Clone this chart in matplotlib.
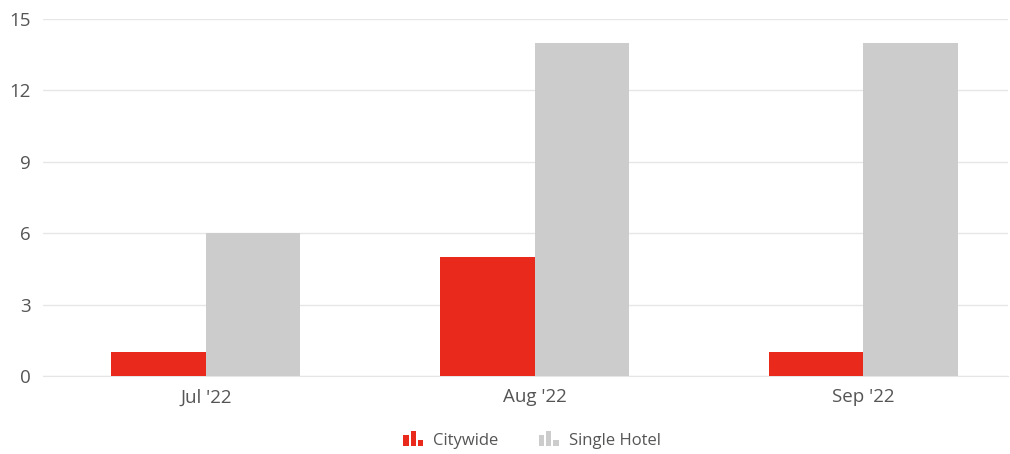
import matplotlib.pyplot as plt
import numpy as np
from matplotlib.patches import Rectangle, Patch
from matplotlib.legend_handler import HandlerBase

months = ["Jul '22", "Aug '22", "Sep '22"]
citywide = [1, 5, 1]
single_hotel = [6, 14, 14]
yticks = [0, 3, 6, 9, 12, 15]

red = '#E8291C'
gray = '#CCCCCC'
text_color = '#555555'

plt.rcParams['font.family'] = ['Open Sans', 'DejaVu Sans']


class BarIconHandler(HandlerBase):
    # small three-bar icon like the web chart legend
    def create_artists(self, legend, orig_handle, xdescent, ydescent,
                       width, height, fontsize, trans):
        color = orig_handle.get_facecolor()
        heights = [0.8, 1.15, 0.45]
        bw = width / 3.6
        gap = (width - 3 * bw) / 2
        arts = []
        for i, h in enumerate(heights):
            r = Rectangle((-xdescent + i * (bw + gap), -ydescent), bw, height * h,
                          facecolor=color, edgecolor='none', transform=trans)
            arts.append(r)
        return arts


fig = plt.figure(figsize=(10.1, 4.54), dpi=100)
ax = fig.add_axes([43 / 1010, 78 / 454, 965 / 1010, 357 / 454])

x = np.arange(len(months))
w = 0.288
ax.bar(x - w / 2, citywide, width=w, color=red, zorder=3)
ax.bar(x + w / 2, single_hotel, width=w, color=gray, zorder=3)

ax.set_ylim(0, 15)
ax.set_xlim(-0.495, 2.44)
ax.set_yticks(yticks)
ax.set_xticks(x)
ax.set_xticklabels(months)
ax.grid(axis='y', color='#E6E6E6', linewidth=1, zorder=0)
ax.tick_params(axis='both', length=0, labelsize=13.5, colors=text_color)
ax.tick_params(axis='x', pad=9)
ax.tick_params(axis='y', pad=9)
for s in ['top', 'right', 'left']:
    ax.spines[s].set_visible(False)
ax.spines['bottom'].set_color('#E6E6E6')

h1 = Patch(facecolor=red, label='Citywide')
h2 = Patch(facecolor=gray, label='Single Hotel')
leg = fig.legend(handles=[h1, h2], loc='center', bbox_to_anchor=(532 / 1010, 1 - 441 / 454),
                 ncol=2, frameon=False, fontsize=12, handler_map={Patch: BarIconHandler()},
                 handlelength=1.2, handleheight=0.85, handletextpad=0.6, columnspacing=2.4)
for t in leg.get_texts():
    t.set_color(text_color)

fig.savefig('out.png', dpi=100)
